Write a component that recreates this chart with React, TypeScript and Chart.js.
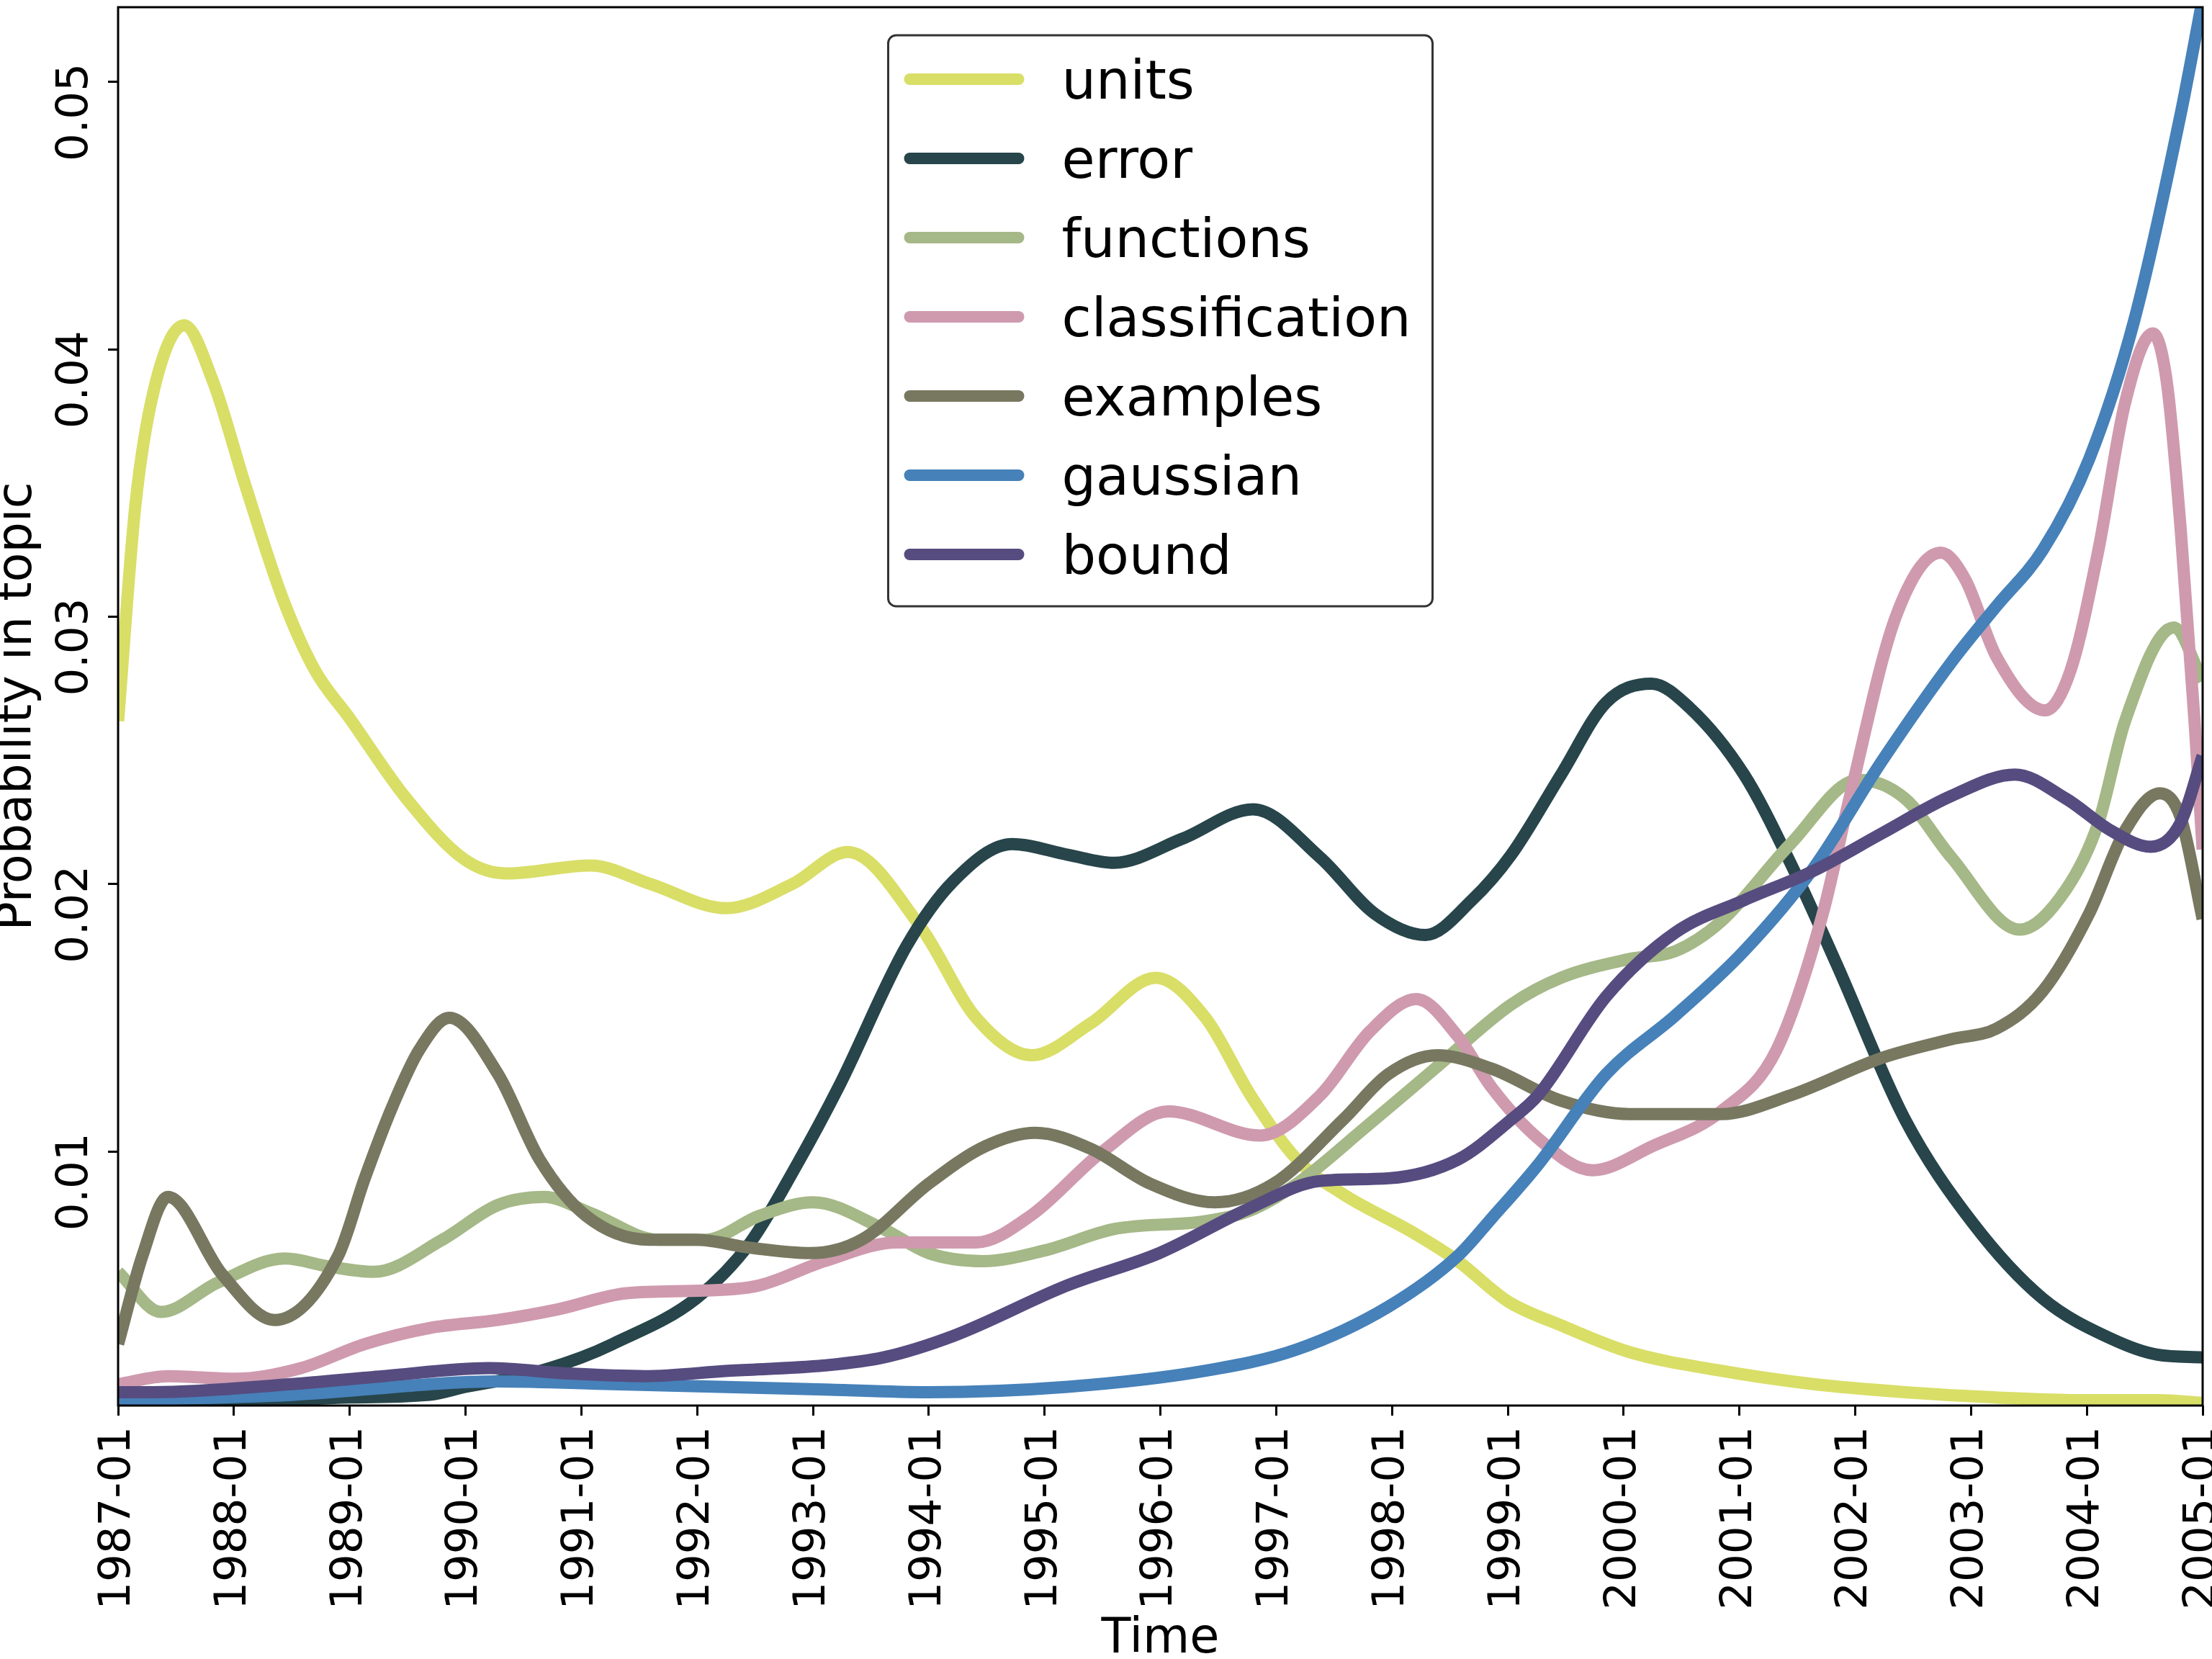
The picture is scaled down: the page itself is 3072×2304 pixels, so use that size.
import React, { useEffect, useRef } from 'react';
import { Chart, registerables } from 'chart.js';

Chart.register(...registerables);

// axis ticks
const xTickYears = [1987, 1988, 1989, 1990, 1991, 1992, 1993, 1994, 1995, 1996, 1997, 1998, 1999, 2000, 2001, 2002, 2003, 2004, 2005];
const yTickValues = [0.01, 0.02, 0.03, 0.04, 0.05];

// series (decimal year, probability)
const unitsYears = [1987.0, 1987.15, 1987.31, 1987.57, 1987.82, 1988.1, 1988.42, 1988.7, 1989.0, 1989.49, 1990.0, 1990.36, 1991.08, 1991.6, 1992.25, 1992.82, 1993.3, 1993.93, 1994.41, 1994.89, 1995.4, 1995.96, 1996.39, 1996.78, 1997.18, 1997.58, 1998.17, 1998.57, 1999.0, 1999.46, 2000.05, 2000.84, 2001.64, 2002.43, 2003.22, 2004.0, 2004.61, 2005.0];
const unitsValues = [0.0261, 0.0342, 0.0385, 0.0409, 0.0388, 0.0349, 0.0307, 0.0280, 0.0262, 0.0232, 0.0209, 0.0204, 0.0207, 0.0200, 0.0191, 0.0200, 0.0212, 0.0184, 0.0150, 0.0136, 0.0148, 0.0165, 0.0150, 0.0121, 0.0097, 0.0084, 0.0070, 0.0059, 0.0044, 0.0035, 0.0025, 0.0018, 0.0013, 0.0010, 0.0008, 0.0007, 0.0007, 0.0006];

const errorYears = [1987.0, 1988.0, 1988.5, 1989.0, 1989.69, 1990.0, 1990.48, 1991.0, 1991.27, 1991.99, 1992.46, 1992.86, 1993.22, 1993.81, 1994.21, 1994.72, 1995.2, 1995.6, 1996.19, 1996.8, 1997.38, 1997.85, 1998.29, 1998.69, 1999.03, 1999.46, 1999.85, 2000.24, 2000.57, 2001.04, 2001.44, 2001.84, 2002.43, 2003.02, 2003.62, 2004.21, 2004.61, 2005.0];
const errorValues = [0.0005, 0.0005, 0.0007, 0.0008, 0.0009, 0.0012, 0.0016, 0.0023, 0.0028, 0.0045, 0.0066, 0.0095, 0.0124, 0.0177, 0.0201, 0.0215, 0.0211, 0.0208, 0.0217, 0.0228, 0.0210, 0.0189, 0.0181, 0.0194, 0.0211, 0.0241, 0.0268, 0.0275, 0.0266, 0.0241, 0.0208, 0.0170, 0.0112, 0.0073, 0.0045, 0.0030, 0.0024, 0.0023];

const functionsYears = [1987.0, 1987.37, 1987.86, 1988.44, 1988.82, 1989.21, 1989.8, 1990.28, 1990.68, 1991.08, 1991.67, 1992.07, 1992.54, 1993.0, 1993.61, 1994.0, 1994.47, 1995.0, 1995.6, 1996.39, 1996.78, 1997.18, 1997.77, 1998.37, 1999.03, 1999.46, 2000.05, 2000.45, 2000.84, 2001.44, 2002.03, 2002.43, 2002.83, 2003.42, 2003.82, 2004.1, 2004.33, 2004.75, 2005.0];
const functionsValues = [0.0055, 0.0040, 0.0051, 0.0060, 0.0057, 0.0055, 0.0067, 0.0080, 0.0083, 0.0077, 0.0067, 0.0067, 0.0076, 0.0081, 0.0071, 0.0062, 0.0059, 0.0063, 0.0071, 0.0074, 0.0078, 0.0088, 0.0109, 0.0131, 0.0155, 0.0165, 0.0172, 0.0175, 0.0186, 0.0215, 0.0239, 0.0232, 0.0210, 0.0183, 0.0198, 0.0223, 0.0261, 0.0296, 0.0276];

const classificationYears = [1987.0, 1987.43, 1988.02, 1988.58, 1989.13, 1989.69, 1990.28, 1990.8, 1991.39, 1992.07, 1992.54, 1993.1, 1993.73, 1994.41, 1994.88, 1995.5, 1996.07, 1996.86, 1997.38, 1997.81, 1998.21, 1998.57, 1998.86, 1999.26, 1999.73, 2000.25, 2000.84, 2001.32, 2001.72, 2001.95, 2002.35, 2002.74, 2002.95, 2003.22, 2003.64, 2003.86, 2004.1, 2004.33, 2004.57, 2004.69, 2004.81, 2004.93, 2005.0];
const classificationValues = [0.0013, 0.0016, 0.0015, 0.0019, 0.0028, 0.0034, 0.0037, 0.0041, 0.0047, 0.0048, 0.0050, 0.0059, 0.0066, 0.0066, 0.0076, 0.0100, 0.0115, 0.0106, 0.0121, 0.0145, 0.0157, 0.0143, 0.0124, 0.0105, 0.0093, 0.0102, 0.0115, 0.0138, 0.0189, 0.0232, 0.0300, 0.0324, 0.0314, 0.0285, 0.0265, 0.0280, 0.0325, 0.0380, 0.0406, 0.0388, 0.0333, 0.0261, 0.0213];

const examplesYears = [1987.0, 1987.21, 1987.43, 1987.9, 1988.35, 1988.9, 1989.13, 1989.37, 1989.6, 1989.86, 1990.28, 1990.64, 1991.04, 1991.59, 1991.99, 1992.46, 1992.98, 1993.42, 1994.0, 1994.49, 1994.92, 1995.4, 1995.91, 1996.47, 1996.98, 1997.58, 1997.97, 1998.39, 1998.86, 1999.46, 2000.05, 2000.84, 2001.44, 2002.23, 2002.83, 2003.22, 2003.62, 2004.02, 2004.33, 2004.63, 2004.81, 2005.0];
const examplesValues = [0.0028, 0.0061, 0.0083, 0.0054, 0.0037, 0.0061, 0.0090, 0.0117, 0.0138, 0.0150, 0.0129, 0.0097, 0.0076, 0.0067, 0.0067, 0.0064, 0.0062, 0.0067, 0.0088, 0.0102, 0.0107, 0.0101, 0.0088, 0.0081, 0.0088, 0.0112, 0.0129, 0.0136, 0.0131, 0.0119, 0.0114, 0.0114, 0.0121, 0.0135, 0.0142, 0.0146, 0.0160, 0.0189, 0.0220, 0.0234, 0.0225, 0.0187];

const gaussianYears = [1987.0, 1988.5, 1990.28, 1991.27, 1993.1, 1994.0, 1995.2, 1996.39, 1997.18, 1997.97, 1998.57, 1998.86, 1999.26, 1999.85, 2000.45, 2001.04, 2001.64, 2002.23, 2002.83, 2003.22, 2003.62, 2004.02, 2004.41, 2004.81, 2005.0];
const gaussianValues = [0.0007, 0.0009, 0.0014, 0.0013, 0.0011, 0.0010, 0.0012, 0.0018, 0.0026, 0.0042, 0.0061, 0.0075, 0.0095, 0.0129, 0.0151, 0.0175, 0.0206, 0.0246, 0.0283, 0.0304, 0.0325, 0.0359, 0.0411, 0.0488, 0.0531];

const boundYears = [1987.0, 1987.3, 1988.5, 1989.29, 1990.2, 1990.88, 1991.55, 1992.27, 1993.1, 1993.61, 1994.21, 1995.2, 1995.99, 1996.78, 1997.38, 1997.97, 1998.57, 1999.03, 1999.26, 1999.85, 2000.45, 2001.04, 2001.64, 2002.23, 2002.83, 2003.38, 2003.82, 2004.21, 2004.55, 2004.81, 2005.0];
const boundValues = [0.0010, 0.0010, 0.0013, 0.0016, 0.0019, 0.0017, 0.0016, 0.0018, 0.0020, 0.0023, 0.0031, 0.0050, 0.0062, 0.0079, 0.0089, 0.0090, 0.0097, 0.0112, 0.0121, 0.0158, 0.0182, 0.0194, 0.0205, 0.0219, 0.0233, 0.0241, 0.0232, 0.0220, 0.0214, 0.0223, 0.0248];

const series = [
    { label: 'units', years: unitsYears, values: unitsValues, color: '#d9de67' },
    { label: 'error', years: errorYears, values: errorValues, color: '#27454a' },
    { label: 'functions', years: functionsYears, values: functionsValues, color: '#a5b887' },
    { label: 'classification', years: classificationYears, values: classificationValues, color: '#cf9aae' },
    { label: 'examples', years: examplesYears, values: examplesValues, color: '#787861' },
    { label: 'gaussian', years: gaussianYears, values: gaussianValues, color: '#4681b9' },
    { label: 'bound', years: boundYears, values: boundValues, color: '#564c80' },
];

const FONT = 'DejaVu Sans';

// frame around the plot + legend box drawn inside the plot (upper center)
const frameLegendPlugin = {
    id: 'frameLegend',
    afterDraw(chart: Chart) {
        const { ctx, chartArea } = chart;
        ctx.save();
        ctx.strokeStyle = '#000';
        ctx.lineWidth = 3;
        ctx.strokeRect(chartArea.left, chartArea.top, chartArea.right - chartArea.left, chartArea.bottom - chartArea.top);

        const boxW = 756;
        const boxH = 793;
        const boxX = (chartArea.left + chartArea.right) / 2 - boxW / 2;
        const boxY = chartArea.top + 39;
        ctx.beginPath();
        ctx.roundRect(boxX, boxY, boxW, boxH, 11);
        ctx.fillStyle = '#fff';
        ctx.fill();
        ctx.strokeStyle = '#333';
        ctx.lineWidth = 3;
        ctx.stroke();

        ctx.font = `75px "${FONT}"`;
        ctx.textBaseline = 'alphabetic';
        ctx.textAlign = 'left';
        series.forEach((s, i) => {
            const rowY = boxY + 61 + i * 110;
            ctx.beginPath();
            ctx.moveTo(boxX + 30, rowY);
            ctx.lineTo(boxX + 181, rowY);
            ctx.strokeStyle = s.color;
            ctx.lineWidth = 16;
            ctx.lineCap = 'round';
            ctx.stroke();
            ctx.fillStyle = '#000';
            ctx.fillText(s.label, boxX + 241, rowY + 27);
        });
        ctx.restore();
    },
};

const TopicChart: React.FC = () => {
    const chartRef = useRef<HTMLCanvasElement>(null);
    const chartInstanceRef = useRef<Chart | null>(null);

    useEffect(() => {
        document.body.style.margin = '0';
        if (chartRef.current) {
            const ctx = chartRef.current.getContext('2d');
            if (ctx) {
                if (chartInstanceRef.current) {
                    chartInstanceRef.current.destroy();
                }

                chartInstanceRef.current = new Chart(ctx, {
                    type: 'line',
                    data: {
                        datasets: series.map((s, i) => ({
                            label: s.label,
                            data: s.years.map((x, j) => ({ x, y: s.values[j] })),
                            borderColor: s.color,
                            backgroundColor: s.color,
                            borderWidth: 17,
                            borderJoinStyle: 'round' as const,
                            pointRadius: 0,
                            cubicInterpolationMode: 'monotone' as const,
                            clip: 0,
                            order: series.length - i,
                        })),
                    },
                    options: {
                        animation: false,
                        responsive: false,
                        devicePixelRatio: 1,
                        layout: {
                            autoPadding: false,
                            padding: { top: 10, right: 13, left: 0, bottom: 0 },
                        },
                        plugins: {
                            legend: { display: false },
                            tooltip: { enabled: false },
                        },
                        scales: {
                            x: {
                                type: 'linear',
                                min: 1987,
                                max: 2005,
                                afterBuildTicks: (scale: any) => {
                                    scale.ticks = xTickYears.map((value) => ({ value }));
                                },
                                afterFit: (scale: any) => {
                                    // labels may run past the canvas edge, as in the original
                                    scale.height = 352;
                                    scale.paddingLeft = 0;
                                    scale.paddingRight = 0;
                                },
                                ticks: {
                                    autoSkip: false,
                                    minRotation: 90,
                                    maxRotation: 90,
                                    padding: 15,
                                    color: '#000',
                                    font: { family: FONT, size: 61 },
                                    callback: (value: any) => `${value}-01`,
                                },
                                grid: {
                                    drawOnChartArea: false,
                                    drawTicks: true,
                                    tickLength: 14,
                                    tickWidth: 3,
                                    tickColor: '#000',
                                },
                                border: { display: false },
                                title: {
                                    display: true,
                                    text: 'Time',
                                    color: '#000',
                                    font: { family: FONT, size: 67, lineHeight: 1 },
                                    padding: { top: 0, bottom: -7 },
                                },
                            },
                            y: {
                                type: 'linear',
                                min: 0.0005,
                                max: 0.0528,
                                afterBuildTicks: (scale: any) => {
                                    scale.ticks = yTickValues.map((value) => ({ value }));
                                },
                                afterFit: (scale: any) => {
                                    scale.width = 164;
                                    scale.paddingTop = 0;
                                    scale.paddingBottom = 0;
                                },
                                ticks: {
                                    autoSkip: false,
                                    minRotation: 90,
                                    maxRotation: 90,
                                    crossAlign: 'center',
                                    padding: -23,
                                    labelOffset: 42,
                                    color: '#000',
                                    font: { family: FONT, size: 61 },
                                    callback: (value: any) => Number(value).toFixed(2),
                                },
                                grid: {
                                    drawOnChartArea: false,
                                    drawTicks: true,
                                    tickLength: 14,
                                    tickWidth: 3,
                                    tickColor: '#000',
                                },
                                border: { display: false },
                                title: {
                                    display: true,
                                    text: 'Probability in topic',
                                    color: '#000',
                                    font: { family: FONT, size: 67, lineHeight: 1 },
                                    padding: { top: -8, bottom: 0 },
                                },
                            },
                        },
                    },
                    plugins: [frameLegendPlugin],
                });
            }
        }
        return () => {
            if (chartInstanceRef.current) {
                chartInstanceRef.current.destroy();
                chartInstanceRef.current = null;
            }
        };
    }, []);

    return (
        <div style={{ width: 3072, height: 2304, background: '#fff' }}>
            <canvas ref={chartRef} width={3072} height={2304}></canvas>
        </div>
    );
};

export default function App() {
    return <TopicChart />;
}
